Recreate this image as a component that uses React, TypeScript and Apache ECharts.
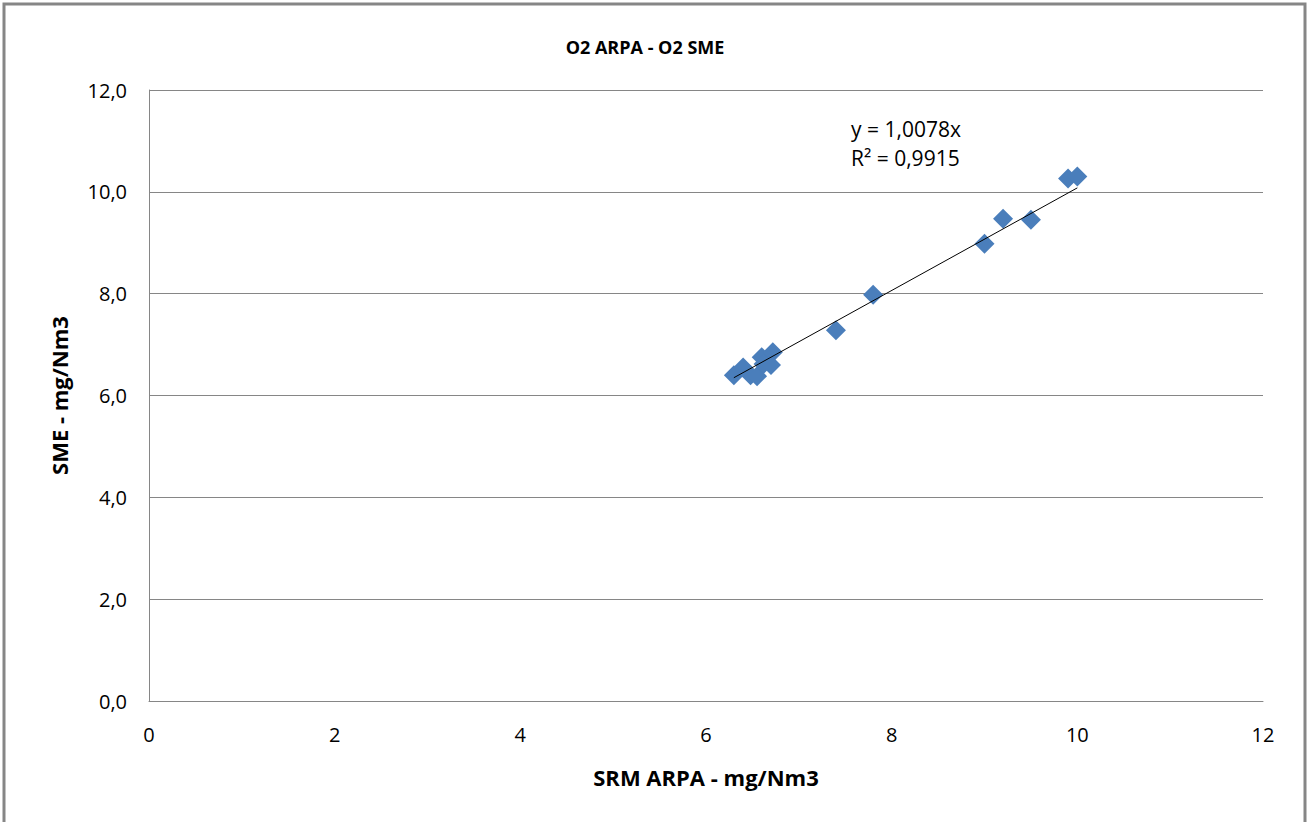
import React, { useEffect, useRef } from "react";
import * as echarts from "echarts";

// Paired O2 readings: SRM ARPA (x) vs SME (y), mg/Nm3
const srmArpa = [6.3, 6.4, 6.48, 6.55, 6.6, 6.62, 6.72, 6.7, 7.4, 7.8, 9.0, 9.2, 9.5, 9.9, 10.0];
const sme = [6.4, 6.55, 6.4, 6.38, 6.75, 6.62, 6.85, 6.6, 7.28, 7.98, 8.98, 9.47, 9.45, 10.26, 10.3];

// Linear trend through the origin
const slope = 1.0078;
const rSquared = 0.9915;

const yTicks = [0, 2, 4, 6, 8, 10, 12];
const xTicks = [0, 2, 4, 6, 8, 10, 12];

const FONT = "'Open Sans', 'Liberation Sans', sans-serif";

export default function App() {
  const ref = useRef<HTMLDivElement>(null);

  useEffect(() => {
    if (!ref.current) return;
    const chart = echarts.init(ref.current, undefined, { renderer: "svg" });
    const points = srmArpa.map((x, i) => [x, sme[i]]);
    const xMin = Math.min(...srmArpa);
    const xMax = Math.max(...srmArpa);
    const trend = [
      [xMin, slope * xMin],
      [xMax, slope * xMax],
    ];
    const fmt = (v: number) => v.toFixed(1).replace(".", ",");
    const eq = `y = ${slope.toFixed(4).replace(".", ",")}x`;
    const r2 = `R² = ${rSquared.toFixed(4).replace(".", ",")}`;

    chart.setOption({
      animation: false,
      backgroundColor: "#ffffff",
      title: {
        text: "O2 ARPA - O2 SME",
        left: 640,
        top: 33,
        textAlign: "center",
        textStyle: { fontFamily: FONT, fontSize: 18, fontWeight: "bold", color: "#000" },
      },
      graphic: [
        {
          type: "rect",
          shape: { x: 4, y: 4, width: 1301, height: 840 },
          style: { fill: "none", stroke: "#868686", lineWidth: 3 },
          silent: true,
        },
        {
          type: "text",
          left: 851,
          top: 114,
          style: {
            text: eq + "\n" + r2,
            fontFamily: FONT,
            fontSize: 21,
            lineHeight: 29,
            fill: "#000",
          },
        },
      ],
      grid: { left: 149, right: 46, top: 90, bottom: 121 },
      xAxis: {
        type: "value",
        min: xTicks[0],
        max: xTicks[xTicks.length - 1],
        interval: 2,
        name: "SRM ARPA - mg/Nm3",
        nameLocation: "middle",
        nameGap: 65,
        nameTextStyle: { fontFamily: FONT, fontSize: 22, fontWeight: "bold", color: "#000" },
        axisLine: { show: true, lineStyle: { color: "#868686", width: 1 } },
        axisTick: { show: false },
        splitLine: { show: false },
        axisLabel: { margin: 23, fontFamily: FONT, fontSize: 20, color: "#000" },
      },
      yAxis: {
        type: "value",
        min: yTicks[0],
        max: yTicks[yTicks.length - 1],
        interval: 2,
        name: "SME - mg/Nm3",
        nameLocation: "middle",
        nameGap: 79,
        nameTextStyle: { fontFamily: FONT, fontSize: 22, fontWeight: "bold", color: "#000" },
        axisLine: { show: true, lineStyle: { color: "#868686", width: 1 } },
        axisTick: { show: false },
        splitLine: { show: true, lineStyle: { color: "#868686", width: 1 } },
        axisLabel: { margin: 22, fontFamily: FONT, fontSize: 20, color: "#000", formatter: fmt },
      },
      series: [
        {
          type: "scatter",
          data: points,
          symbol: "diamond",
          symbolSize: [20, 20],
          itemStyle: { color: "#4a7ebb", opacity: 1 },
          z: 2,
        },
        {
          type: "line",
          data: trend,
          symbol: "none",
          lineStyle: { color: "#000", width: 1 },
          z: 3,
        },
      ],
    });
    return () => chart.dispose();
  }, []);

  return (
    <div
      ref={ref}
      style={{ position: "absolute", left: 0, top: 0, width: 1309, height: 822 }}
    />
  );
}
